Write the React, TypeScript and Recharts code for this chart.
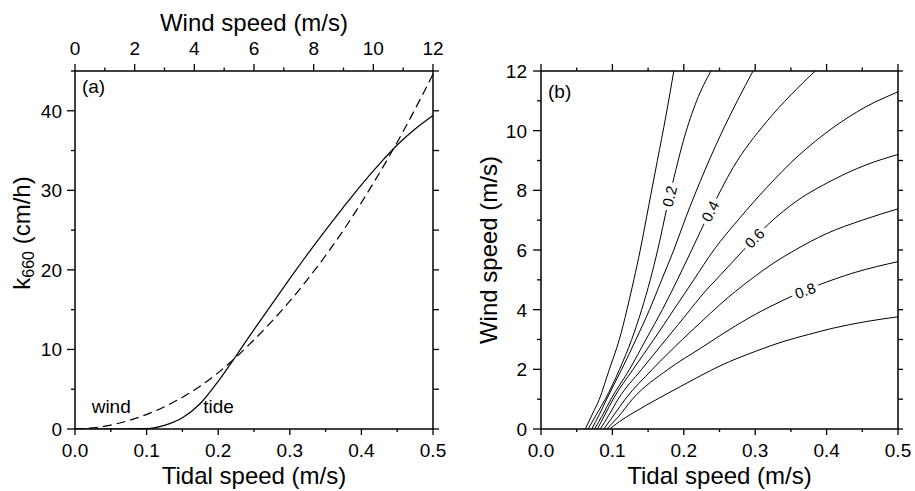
import React from "react";
import { LineChart, Line, XAxis, YAxis, Label, ReferenceDot } from "recharts";

const FONT = "'Liberation Sans', Arial, Helvetica, sans-serif";

// ---- panel (a): k660 vs tidal speed (bottom axis) and wind speed (top axis)
const tideSpeed = [0, 0.05, 0.1, 0.125, 0.15, 0.175, 0.2, 0.225, 0.25, 0.275, 0.3, 0.325, 0.35, 0.375, 0.4, 0.425, 0.45, 0.475, 0.5];
const tideK660 = [0, 0, 0.05, 0.45, 1.4, 3.2, 6.0, 9.2, 12.5, 15.7, 18.9, 22.0, 25.0, 27.9, 30.7, 33.3, 35.7, 37.7, 39.4];

const windSpeed = [0, 1, 2, 3, 4, 5, 6, 7, 8, 9, 10, 11, 12];
const windK660 = [0, 0.35, 1.3, 2.8, 4.9, 7.7, 11.2, 15.2, 19.8, 25.0, 30.9, 37.4, 44.6];

const tideTicks = [0, 0.05, 0.1, 0.15, 0.2, 0.25, 0.3, 0.35, 0.4, 0.45, 0.5];
const windTicks = [0, 1, 2, 3, 4, 5, 6, 7, 8, 9, 10, 11, 12];
const kTicks = [0, 5, 10, 15, 20, 25, 30, 35, 40, 45];

// ---- panel (b): contour lines 0.1 .. 0.9, points are [tidal speed, wind speed]
const contour01: [number, number][] = [[0.062, 0], [0.072, 0.5], [0.0817, 1], [0.0957, 2], [0.1097, 3], [0.1204, 4], [0.13, 5], [0.139, 6], [0.151, 7.5], [0.163, 9], [0.175, 10.5], [0.186, 12]];
const contour02: [number, number][] = [[0.066, 0], [0.078, 0.5], [0.09, 1], [0.11, 2], [0.127, 3], [0.141, 4], [0.153, 5], [0.1634, 6], [0.1774, 7.53], [0.189, 8.7], [0.2007, 9.77], [0.218, 11.0], [0.238, 12]];
const contour03: [number, number][] = [[0.071, 0], [0.082, 0.5], [0.092, 1], [0.113, 2], [0.133, 3], [0.152, 4], [0.169, 5], [0.186, 6], [0.203, 7.1], [0.223, 8.3], [0.252, 9.88], [0.275, 11], [0.297, 12]];
const contour04: [number, number][] = [[0.075, 0], [0.087, 0.5], [0.098, 1], [0.124, 2], [0.147, 3], [0.17, 4], [0.191, 5], [0.211, 6], [0.237, 7.3], [0.269, 8.76], [0.316, 10.3], [0.35, 11.2], [0.384, 12]];
const contour05: [number, number][] = [[0.079, 0], [0.09, 0.5], [0.101, 1], [0.129, 2], [0.158, 3], [0.186, 4], [0.214, 5], [0.242, 6], [0.278, 7.06], [0.316, 8.09], [0.36, 9.15], [0.409, 10.1], [0.455, 10.8], [0.5, 11.3]];
const contour06: [number, number][] = [[0.083, 0], [0.096, 0.5], [0.108, 1], [0.141, 2], [0.175, 3], [0.209, 4], [0.223, 4.42], [0.252, 5.18], [0.283, 5.98], [0.307, 6.6], [0.35, 7.5], [0.409, 8.35], [0.455, 8.85], [0.5, 9.2]];
const contour07: [number, number][] = [[0.088, 0], [0.103, 0.5], [0.118, 1], [0.156, 2], [0.198, 3], [0.223, 3.56], [0.252, 4.2], [0.293, 5.0], [0.325, 5.55], [0.356, 6.0], [0.4, 6.55], [0.45, 7.0], [0.5, 7.38]];
const contour08: [number, number][] = [[0.092, 0], [0.108, 0.4], [0.128, 1], [0.178, 2], [0.223, 2.7], [0.252, 3.15], [0.293, 3.75], [0.325, 4.15], [0.353, 4.47], [0.386, 4.8], [0.44, 5.25], [0.5, 5.61]];
const contour09: [number, number][] = [[0.096, 0], [0.11, 0.25], [0.129, 0.54], [0.165, 1.03], [0.195, 1.42], [0.223, 1.78], [0.252, 2.13], [0.3, 2.6], [0.339, 2.93], [0.375, 3.17], [0.409, 3.38], [0.455, 3.6], [0.5, 3.76]];

const contours = [contour01, contour02, contour03, contour04, contour05, contour06, contour07, contour08, contour09];

const contourLabelText = ["0.2", "0.4", "0.6", "0.8"];
const contourLabelTide = [0.18, 0.237, 0.299, 0.37];
const contourLabelWind = [7.8, 7.3, 6.4, 4.64];
const contourLabelAngle = [-76, -63, -45, -20];

const tideData = tideSpeed.map((t, i) => ({ t, k: tideK660[i] }));
const windData = windSpeed.map((u, i) => ({ u, k: windK660[i] }));

type Side = "top" | "bottom" | "left" | "right";

// draws its own tick mark (long for majors, short for minors) and a label on majors
const makeTick =
  (side: Side, majorEvery: number, fmt: ((v: number) => string) | null, majorLen: number, minorLen: number, gap: number) =>
  (props: any) => {
    const { x, y, payload } = props;
    const v = Number(payload.value);
    const r = v / majorEvery;
    const major = Math.abs(r - Math.round(r)) < 1e-6;
    const len = major ? majorLen : minorLen;
    let x2 = x,
      y2 = y,
      tx = x,
      ty = y;
    let anchor: "middle" | "end" | "start" = "middle";
    let dy = "0";
    if (side === "bottom") {
      y2 = y + len;
      ty = y + gap;
    } else if (side === "top") {
      y2 = y - len;
      ty = y - gap;
    } else if (side === "left") {
      x2 = x - len;
      tx = x - gap;
      anchor = "end";
      dy = "0.36em";
    } else {
      x2 = x + len;
    }
    return (
      <g>
        <line x1={x} y1={y} x2={x2} y2={y2} stroke="#000" strokeWidth={1.3} />
        {major && fmt && (
          <text x={tx} y={ty} dy={dy} textAnchor={anchor} fontSize={19} fontFamily={FONT} fill="#000">
            {fmt(v)}
          </text>
        )}
      </g>
    );
  };

const axisLine = { stroke: "#000", strokeWidth: 1.5 };
const common = { tickLine: false, tickSize: 0, tickMargin: 0, interval: 0 as const, axisLine, allowDataOverflow: true };

const textLabel = (txt: string) => (p: any) =>
  (
    <text x={p.cx} y={p.cy} fontSize={19} fontFamily={FONT} fill="#000">
      {txt}
    </text>
  );

const contourLabel = (txt: string, angle: number) => (p: any) =>
  (
    <g transform={`translate(${p.cx},${p.cy}) rotate(${angle})`}>
      <rect x={-14} y={-8} width={28} height={16} fill="#fff" />
      <text x={0} y={0} dy="0.36em" textAnchor="middle" fontSize={15} fontFamily={FONT} fill="#000">
        {txt}
      </text>
    </g>
  );

const bottomTitle = (p: any) => (
  <text x={p.viewBox.x + p.viewBox.width / 2} y={484} textAnchor="middle" fontSize={24} fontFamily={FONT} fill="#000">
    Tidal speed (m/s)
  </text>
);

const PanelA = () => (
  <LineChart width={460} height={491} margin={{ top: 0, right: 0, bottom: 0, left: 0 }}>
    <XAxis
      {...common}
      xAxisId="t"
      dataKey="t"
      type="number"
      domain={[0, 0.5]}
      ticks={tideTicks}
      orientation="bottom"
      height={62}
      tick={makeTick("bottom", 0.1, (v) => v.toFixed(1), 6, 3, 28)}
    >
      <Label content={bottomTitle} />
    </XAxis>
    <XAxis
      {...common}
      xAxisId="u"
      dataKey="u"
      type="number"
      domain={[0, 12]}
      ticks={windTicks}
      orientation="top"
      height={71}
      tick={makeTick("top", 2, (v) => String(v), 7, 3.5, 16)}
    >
      <Label
        content={(p: any) => (
          <text x={p.viewBox.x + p.viewBox.width / 2} y={31} textAnchor="middle" fontSize={24} fontFamily={FONT} fill="#000">
            Wind speed (m/s)
          </text>
        )}
      />
    </XAxis>
    <YAxis
      {...common}
      yAxisId="k"
      type="number"
      domain={[0, 45]}
      ticks={kTicks}
      width={75}
      tick={makeTick("left", 10, (v) => String(v), 8, 4, 13)}
    >
      <Label
        content={() => (
          <text x={0} y={0} transform="translate(30,233) rotate(-90)" textAnchor="middle" fontSize={24} fontFamily={FONT} fill="#000">
            k
            <tspan fontSize={16} dy={4}>
              660
            </tspan>
            <tspan dy={-4}> (cm/h)</tspan>
          </text>
        )}
      />
    </YAxis>
    <YAxis
      {...common}
      yAxisId="r"
      orientation="right"
      type="number"
      domain={[0, 45]}
      ticks={kTicks}
      width={27}
      tick={makeTick("right", 5, null, 6, 6, 0)}
    />
    <Line data={tideData} xAxisId="t" yAxisId="r" dataKey="k" stroke="none" dot={false} isAnimationActive={false} />
    <Line data={tideData} xAxisId="t" yAxisId="k" dataKey="k" type="monotone" stroke="#000" strokeWidth={1.2} dot={false} isAnimationActive={false} />
    <Line
      data={windData}
      xAxisId="u"
      yAxisId="k"
      dataKey="k"
      type="monotone"
      stroke="#000"
      strokeWidth={1.2}
      strokeDasharray="9 5"
      dot={false}
      isAnimationActive={false}
    />
    <ReferenceDot xAxisId="t" yAxisId="k" x={0.0233} y={2.0} r={0} shape={textLabel("wind")} />
    <ReferenceDot xAxisId="t" yAxisId="k" x={0.179} y={2.0} r={0} shape={textLabel("tide")} />
    <ReferenceDot xAxisId="t" yAxisId="k" x={0.0097} y={42.2} r={0} shape={textLabel("(a)")} />
  </LineChart>
);

const PanelB = () => (
  <LineChart width={455} height={491} margin={{ top: 0, right: 0, bottom: 0, left: 0 }}>
    <XAxis
      {...common}
      xAxisId="t"
      dataKey="t"
      type="number"
      domain={[0, 0.5]}
      ticks={tideTicks}
      orientation="bottom"
      height={62}
      tick={makeTick("bottom", 0.1, (v) => v.toFixed(1), 6, 3, 28)}
    >
      <Label content={bottomTitle} />
    </XAxis>
    <XAxis
      {...common}
      xAxisId="top"
      dataKey="t"
      type="number"
      domain={[0, 0.5]}
      ticks={tideTicks}
      orientation="top"
      height={71}
      tick={makeTick("top", 0.1, null, 7, 3.5, 0)}
    />
    <YAxis
      {...common}
      yAxisId="w"
      type="number"
      domain={[0, 12]}
      ticks={windTicks}
      width={81}
      tick={makeTick("left", 2, (v) => String(v), 8, 4, 14)}
    >
      <Label
        content={() => (
          <text x={0} y={0} transform="translate(37,250) rotate(-90)" textAnchor="middle" fontSize={24} fontFamily={FONT} fill="#000">
            Wind speed (m/s)
          </text>
        )}
      />
    </YAxis>
    <YAxis
      {...common}
      yAxisId="right"
      orientation="right"
      type="number"
      domain={[0, 12]}
      ticks={windTicks}
      width={17}
      tick={makeTick("right", 1, null, 5, 5, 0)}
    />
    <Line
      data={contour01.map(([t, w]) => ({ t, w }))}
      xAxisId="top"
      yAxisId="right"
      dataKey="w"
      stroke="none"
      dot={false}
      isAnimationActive={false}
    />
    {contours.map((c, i) => (
      <Line
        key={i}
        data={c.map(([t, w]) => ({ t, w }))}
        xAxisId="t"
        yAxisId="w"
        dataKey="w"
        type="monotone"
        stroke="#000"
        strokeWidth={1}
        dot={false}
        isAnimationActive={false}
      />
    ))}
    {contourLabelText.map((txt, i) => (
      <ReferenceDot
        key={txt}
        xAxisId="t"
        yAxisId="w"
        x={contourLabelTide[i]}
        y={contourLabelWind[i]}
        r={0}
        shape={contourLabel(txt, contourLabelAngle[i])}
      />
    ))}
    <ReferenceDot xAxisId="t" yAxisId="w" x={0.0098} y={11.1} r={0} shape={textLabel("(b)")} />
  </LineChart>
);

export default function App() {
  return (
    <div style={{ position: "absolute", left: 0, top: 0, width: 915, height: 491, background: "#fff" }}>
      <div style={{ position: "absolute", left: 0, top: 0 }}>
        <PanelA />
      </div>
      <div style={{ position: "absolute", left: 460, top: 0 }}>
        <PanelB />
      </div>
    </div>
  );
}
